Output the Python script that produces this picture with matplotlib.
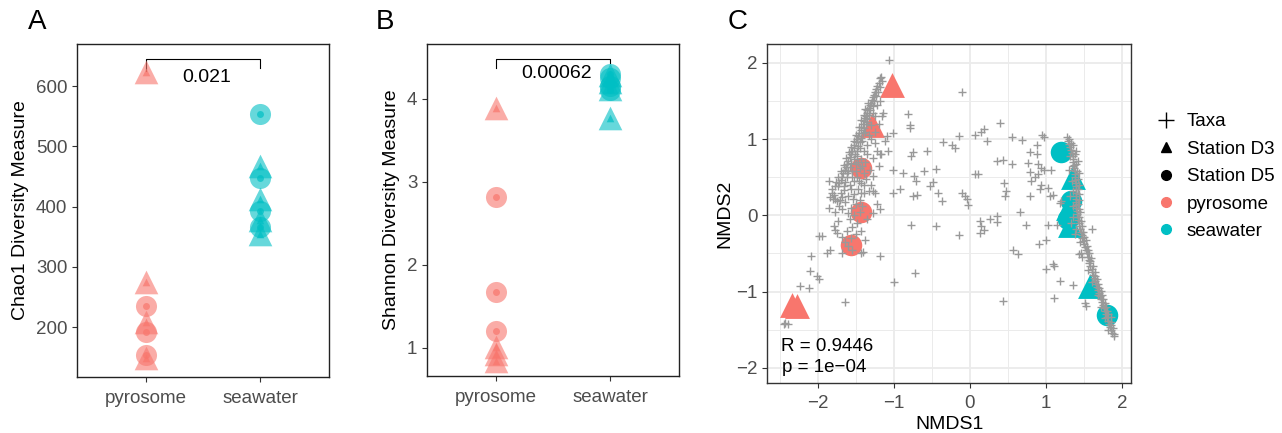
import matplotlib.pyplot as plt
from matplotlib.lines import Line2D
import numpy as np

plt.rcParams['font.family'] = ['Liberation Sans', 'DejaVu Sans']

PYRO = '#F8766D'
SEA = '#00BFC4'
TICKC = '#4D4D4D'

groups = ['pyrosome', 'seawater']

# Chao1 (panel A)
chao_pyro_d3 = [623, 274, 208, 148]
chao_pyro_d5 = [235, 191, 153]
chao_sea_d3 = [468, 412, 377, 355]
chao_sea_d5 = [553, 448, 393, 366]
chao_p = '0.021'

# Shannon (panel B)
shan_pyro_d3 = [3.89, 1.01, 0.92, 0.84]
shan_pyro_d5 = [2.82, 1.67, 1.20]
shan_sea_d3 = [4.28, 4.20, 4.12, 3.77]
shan_sea_d5 = [4.30, 4.25, 4.15, 4.10]
shan_p = '0.00062'

# NMDS samples (panel C)
nmds_pyro_d3 = [(-1.02, 1.71), (-1.29, 1.18), (-2.34, -1.17), (-2.27, -1.19)]
nmds_pyro_d5 = [(-1.43, 0.62), (-1.44, 0.05), (-1.57, -0.39)]
nmds_sea_d3 = [(1.35, 0.51), (1.29, 0.10), (1.31, -0.12), (1.58, -0.93)]
nmds_sea_d5 = [(1.20, 0.83), (1.33, 0.19), (1.29, -0.05), (1.80, -1.31)]
stress_r = 'R = 0.9446'
stress_p = 'p = 1e\u221204'

# taxa scores
taxa_scattered = [
    (-1.07, 2.04), (-1.17, 1.82), (-0.10, 1.62), (-0.81, 1.33), (-0.79, 1.19), (-0.79, 1.15),
    (-1.16, 1.30), (-1.01, 1.08), (-1.09, 1.04), (0.39, 1.21), (0.18, 1.14), (0.15, 1.10),
    (0.07, 1.05), (-0.14, 1.04), (0.22, 0.98), (-0.35, 0.96), (-0.24, 0.92), (-0.20, 0.88),
    (-0.57, 0.85), (-0.75, 0.83), (-0.77, 0.78), (-1.18, 0.80), (0.55, 1.03), (0.68, 0.99),
    (0.95, 1.06), (0.98, 1.03), (0.88, 0.93), (0.79, 0.83), (0.88, 0.81), (0.77, 0.69),
    (0.90, 0.67), (0.94, 0.62), (0.98, 0.60), (1.07, 0.60), (0.79, 0.57), (0.90, 0.54),
    (0.85, 0.51), (0.80, 0.45), (0.94, 0.40), (1.03, 0.36), (0.92, 0.34), (1.09, 0.27),
    (0.79, 0.25), (1.05, 0.25), (1.20, 0.19), (1.18, 0.16), (0.66, 0.05), (0.74, -0.13),
    (1.03, -0.12), (1.14, -0.12), (1.00, -0.32), (0.91, -0.37), (1.09, -0.64), (1.11, -0.66),
    (1.00, -0.71), (1.18, -0.86), (1.36, -0.92), (1.11, -1.08), (1.51, -1.15), (1.53, -1.19),
    (1.60, -0.18), (1.44, -0.51), (1.46, -0.49), (0.57, -0.45), (0.63, -0.51), (0.43, -1.13),
    (0.35, 0.72), (0.44, 0.73), (0.55, 0.67), (0.45, 0.42), (0.48, 0.32), (0.46, 0.25),
    (0.07, 0.54), (0.11, 0.54), (-0.10, 0.30), (-0.07, 0.26), (-0.04, 0.21), (-0.02, 0.14),
    (-0.42, 0.30), (-0.37, 0.19), (-0.53, 0.38), (-0.48, 0.44), (-0.45, 0.61), (-0.60, 0.58),
    (-0.74, 0.52), (-0.71, 0.45), (-0.88, 0.56), (-1.01, 0.59), (-0.92, 0.35), (-1.01, 0.30),
    (-0.75, 0.25), (-0.70, 0.27), (-0.77, -0.12), (-0.45, -0.14), (-0.14, -0.26), (0.13, -0.08),
    (0.15, -0.14), (0.19, -0.19), (0.13, -0.23), (0.26, -0.05), (0.35, -0.01), (0.35, -0.09),
    (-0.72, -0.75), (-1.00, -0.88), (-1.19, -0.53), (-1.19, 0.09), (-1.27, 0.03), (-1.28, 0.32),
    (-1.33, 0.32), (-1.17, 0.81), (-1.41, -0.48), (-1.68, -0.50), (-1.64, -1.14), (-2.09, -0.53),
    (-2.01, -0.80), (-1.99, -0.84), (-2.10, -0.73), (-2.12, -0.95), (-2.23, -0.93), (-1.99, -0.27),
    (-1.95, -0.27), (-1.86, 0.10), (-1.88, -0.49), (-1.84, -0.46), (-1.77, -0.19), (-1.79, -0.14),
    (-1.75, -0.23), (-1.77, 0.21), (-1.79, 0.27), (-1.75, 0.19), (-2.43, -1.41), (-2.39, -1.43),
    (-2.45, -1.43),
]
taxa_left_arm = [
    (-1.18, 1.80), (-1.20, 1.74), (-1.22, 1.70), (-1.23, 1.66), (-1.25, 1.62), (-1.26, 1.58),
    (-1.28, 1.55), (-1.29, 1.52), (-1.30, 1.48), (-1.32, 1.45), (-1.33, 1.41), (-1.35, 1.38),
    (-1.36, 1.35), (-1.37, 1.31), (-1.38, 1.28), (-1.40, 1.24), (-1.41, 1.20), (-1.43, 1.16),
    (-1.44, 1.12), (-1.46, 1.08), (-1.47, 1.04), (-1.48, 1.00), (-1.50, 0.96), (-1.52, 0.92),
    (-1.53, 0.88), (-1.55, 0.84), (-1.57, 0.80), (-1.58, 0.76), (-1.60, 0.72), (-1.62, 0.68),
    (-1.63, 0.64), (-1.65, 0.60), (-1.67, 0.55), (-1.68, 0.50), (-1.70, 0.46), (-1.72, 0.42),
    (-1.74, 0.38), (-1.35, 1.22), (-1.30, 1.18), (-1.38, 1.10), (-1.33, 1.05), (-1.42, 0.98),
    (-1.36, 0.92), (-1.45, 0.88), (-1.40, 0.84), (-1.48, 0.78), (-1.43, 0.74), (-1.38, 0.70),
    (-1.50, 0.68), (-1.45, 0.62), (-1.55, 0.58), (-1.40, 0.55), (-1.48, 0.50), (-1.52, 0.45),
    (-1.43, 0.42), (-1.58, 0.40), (-1.47, 0.35), (-1.40, 0.30), (-1.52, 0.28), (-1.60, 0.25),
    (-1.45, 0.20), (-1.50, 0.15), (-1.56, 0.10), (-1.45, 0.05), (-1.52, 0.00), (-1.58, -0.05),
    (-1.48, -0.10), (-1.55, -0.15), (-1.62, -0.20), (-1.50, -0.25), (-1.57, -0.30), (-1.65, -0.35),
    (-1.62, 0.55), (-1.66, 0.38), (-1.70, 0.30), (-1.64, 0.18), (-1.72, 0.12), (-1.30, 1.00),
    (-1.25, 0.95), (-1.35, 0.80), (-1.28, 0.75), (-1.32, 0.60), (-1.37, 0.48), (-1.30, 0.40),
    (-1.42, 0.12), (-1.35, -0.05), (-1.44, -0.20), (-1.38, -0.32), (-1.43, -0.50), (-1.55, -0.45),
    (-1.60, -0.40), (-1.68, -0.28), (-1.74, -0.08), (-1.78, 0.05), (-1.80, 0.22), (-1.82, 0.35),
    (-1.85, 0.45), (-1.25, 1.30), (-1.22, 1.45), (-1.27, 1.35), (-1.15, 1.35), (-1.18, 1.50),
    (-1.20, 1.20), (-1.25, 1.10), (-1.12, 0.98), (-1.08, 0.85), (-1.22, 0.85), (-1.20, 0.65),
    (-1.28, 0.52), (-1.25, 0.30), (-1.22, 0.15),
    (-1.16, 1.76), (-1.19, 1.68), (-1.21, 1.62), (-1.23, 1.57), (-1.26, 1.50), (-1.28, 1.44),
    (-1.31, 1.38), (-1.33, 1.32), (-1.35, 1.27), (-1.37, 1.20), (-1.39, 1.15), (-1.41, 1.08),
    (-1.43, 1.02), (-1.45, 0.96), (-1.47, 0.91), (-1.49, 0.85), (-1.51, 0.80), (-1.53, 0.74),
    (-1.56, 0.69), (-1.58, 0.63), (-1.60, 0.58), (-1.62, 0.50), (-1.64, 0.44), (-1.66, 0.33),
    (-1.68, 0.24), (-1.71, 0.20), (-1.69, 0.08), (-1.61, 0.03), (-1.54, 0.22), (-1.57, 0.35),
    (-1.34, 1.48), (-1.38, 1.40), (-1.40, 1.32), (-1.43, 1.25), (-1.46, 1.16), (-1.50, 1.05),
    (-1.53, 0.98), (-1.56, 0.90), (-1.59, 0.83), (-1.63, 0.75), (-1.66, 0.66), (-1.70, 0.58),
    (-1.73, 0.50), (-1.76, 0.44), (-1.78, 0.38), (-1.81, 0.30), (-1.84, 0.24), (-1.47, 0.70),
    (-1.42, 0.65), (-1.50, 0.58), (-1.46, 0.45), (-1.39, 0.40), (-1.55, 0.50), (-1.44, 0.30),
]
taxa_right_arm = [
    (1.27, 1.03), (1.29, 0.98), (1.30, 0.94), (1.32, 0.90), (1.33, 0.86), (1.34, 0.82),
    (1.35, 0.78), (1.36, 0.74), (1.36, 0.70), (1.37, 0.66), (1.37, 0.62), (1.38, 0.58),
    (1.38, 0.54), (1.38, 0.50), (1.38, 0.46), (1.39, 0.42), (1.39, 0.38), (1.39, 0.34),
    (1.39, 0.30), (1.39, 0.26), (1.40, 0.22), (1.40, 0.18), (1.40, 0.14), (1.40, 0.10),
    (1.41, 0.06), (1.41, 0.02), (1.42, -0.02), (1.42, -0.06), (1.43, -0.10), (1.44, -0.14),
    (1.45, -0.18), (1.46, -0.22), (1.47, -0.26), (1.48, -0.30), (1.49, -0.34), (1.50, -0.38),
    (1.51, -0.42), (1.52, -0.46), (1.54, -0.50), (1.55, -0.54), (1.56, -0.58), (1.57, -0.62),
    (1.58, -0.66), (1.60, -0.70), (1.61, -0.74), (1.62, -0.78), (1.63, -0.82), (1.65, -0.86),
    (1.66, -0.90), (1.67, -0.94), (1.68, -0.98), (1.70, -1.02), (1.71, -1.06), (1.72, -1.10),
    (1.74, -1.14), (1.75, -1.18), (1.76, -1.22), (1.78, -1.26), (1.79, -1.30), (1.80, -1.34),
    (1.82, -1.38), (1.83, -1.42), (1.84, -1.46), (1.86, -1.50), (1.87, -1.54), (1.89, -1.58),
    (1.33, 0.95), (1.40, 0.85), (1.42, 0.72), (1.35, 0.65), (1.43, 0.55), (1.34, 0.45),
    (1.44, 0.40), (1.35, 0.32), (1.44, 0.20), (1.35, 0.12), (1.45, 0.05), (1.36, -0.02),
    (1.46, -0.08), (1.40, -0.18), (1.50, -0.28), (1.45, -0.35), (1.55, -0.45), (1.48, -0.55),
    (1.58, -0.60), (1.55, -0.72), (1.65, -0.80), (1.60, -0.88), (1.70, -0.95), (1.68, -1.05),
    (1.75, -1.10), (1.72, -1.20), (1.80, -1.25), (1.77, -1.35), (1.85, -1.40), (1.82, -1.50),
    (1.31, 0.78), (1.30, 0.60), (1.32, 0.25), (1.33, -0.10), (1.38, -0.25),
    (1.30, 1.00), (1.36, 0.92), (1.38, 0.80), (1.40, 0.68), (1.41, 0.58), (1.42, 0.48),
    (1.42, 0.35), (1.43, 0.28), (1.42, 0.15), (1.43, 0.08), (1.44, -0.02), (1.47, -0.14),
    (1.49, -0.22), (1.52, -0.32), (1.54, -0.40), (1.57, -0.50), (1.59, -0.56), (1.62, -0.66),
    (1.64, -0.74), (1.67, -0.84), (1.69, -0.90), (1.72, -0.99), (1.74, -1.04), (1.77, -1.15),
    (1.79, -1.20), (1.82, -1.30), (1.85, -1.34), (1.86, -1.44), (1.88, -1.48), (1.90, -1.56),
]

fig = plt.figure(figsize=(12.82, 4.33), dpi=100)
axA = fig.add_axes([0.0601, 0.1293, 0.1966, 0.769])
axB = fig.add_axes([0.3331, 0.1316, 0.1966, 0.767])
axC = fig.add_axes([0.5983, 0.1155, 0.284, 0.783])


def alpha_panel(ax, pd3, pd5, sd3, sd5, ylim, yticks, ylabel, bracket, ptext, ptext_y):
    for xi, d3, d5, col in [(1, pd3, pd5, PYRO), (2, sd3, sd5, SEA)]:
        ax.scatter([xi] * len(d5), d5, marker='o', s=230, color=col, alpha=0.6, linewidths=0, zorder=2)
        ax.scatter([xi] * len(d3), d3, marker='^', s=290, color=col, alpha=0.6, linewidths=0, zorder=2)
        ax.scatter([xi] * len(d5), d5, marker='o', s=25, color=col, alpha=0.7, linewidths=0, zorder=3)
        ax.scatter([xi] * len(d3), d3, marker='^', s=30, color=col, alpha=0.7, linewidths=0, zorder=3)
    top, l_end, r_end = bracket
    ax.plot([1, 1, 2, 2], [l_end, top, top, r_end], color='black', lw=0.8, zorder=1)
    ax.text(1.53, ptext_y, ptext, ha='center', va='center', fontsize=14)
    ax.set_xlim(0.4, 2.6)
    ax.set_ylim(*ylim)
    ax.set_xticks([1, 2])
    ax.set_xticklabels(groups)
    ax.set_yticks(yticks)
    ax.set_ylabel(ylabel, fontsize=14, labelpad=5)
    ax.tick_params(labelsize=13.5, labelcolor=TICKC, color='#333333', length=3.5)
    ax.tick_params(axis='x', pad=6)
    for s in ax.spines.values():
        s.set_linewidth(1.0)
        s.set_color('#222222')


alpha_panel(axA, chao_pyro_d3, chao_pyro_d5, chao_sea_d3, chao_sea_d5,
            (117, 670), [200, 300, 400, 500, 600], 'Chao1 Diversity Measure',
            (645, 625, 630), chao_p, 615)
alpha_panel(axB, shan_pyro_d3, shan_pyro_d5, shan_sea_d3, shan_sea_d5,
            (0.66, 4.66), [1, 2, 3, 4], 'Shannon Diversity Measure',
            (4.48, 4.37, 4.43), shan_p, 4.30)

# panel C
for pts, mk, col, s in [(nmds_pyro_d3, '^', PYRO, 320), (nmds_pyro_d5, 'o', PYRO, 240),
                        (nmds_sea_d3, '^', SEA, 320), (nmds_sea_d5, 'o', SEA, 240)]:
    arr = np.array(pts)
    axC.scatter(arr[:, 0], arr[:, 1], marker=mk, s=s, color=col, linewidths=0, zorder=2)
taxa = np.array(taxa_scattered + taxa_left_arm + taxa_right_arm)
axC.scatter(taxa[:, 0], taxa[:, 1], marker='+', s=28, color='#999999', linewidths=1.0, zorder=3)
axC.text(-2.49, -1.72, stress_r, ha='left', va='center', fontsize=13.5)
axC.text(-2.47, -2.0, stress_p, ha='left', va='center', fontsize=13.5)
axC.set_xlim(-2.67, 2.12)
axC.set_ylim(-2.2, 2.25)
axC.set_xticks([-2, -1, 0, 1, 2])
axC.set_yticks([-2, -1, 0, 1, 2])
axC.set_xticks(np.arange(-2.5, 2.1, 1.0), minor=True)
axC.set_yticks(np.arange(-1.5, 2.1, 1.0), minor=True)
axC.set_xticklabels(['\u22122', '\u22121', '0', '1', '2'])
axC.set_yticklabels(['\u22122', '\u22121', '0', '1', '2'])
axC.grid(which='major', color='#EBEBEB', lw=1.3, zorder=0)
axC.grid(which='minor', color='#EBEBEB', lw=0.7, zorder=0)
axC.set_axisbelow(True)
axC.tick_params(which='major', labelsize=13.5, labelcolor=TICKC, color='#333333', length=3.5)
axC.tick_params(axis='x', which='major', pad=5)
axC.tick_params(which='minor', length=0)
axC.set_xlabel('NMDS1', fontsize=14, labelpad=3)
axC.set_ylabel('NMDS2', fontsize=14, labelpad=2)
for s in axC.spines.values():
    s.set_linewidth(1.0)
    s.set_color('#333333')

handles = [
    Line2D([], [], ls='', marker='+', color='black', markersize=11, markeredgewidth=1.0),
    Line2D([], [], ls='', marker='^', color='black', markersize=7),
    Line2D([], [], ls='', marker='o', color='black', markersize=7),
    Line2D([], [], ls='', marker='o', color=PYRO, markersize=7),
    Line2D([], [], ls='', marker='o', color=SEA, markersize=7),
]
labels = ['Taxa', 'Station D3', 'Station D5', 'pyrosome', 'seawater']
fig.legend(handles, labels, loc='upper left', bbox_to_anchor=(1141 / 1282, 1 - 100 / 433),
           frameon=False, fontsize=13.5, labelspacing=0.55, handletextpad=0.45,
           handlelength=1.3, borderpad=0.2)

for lab, xp in [('A', 37), ('B', 385), ('C', 738)]:
    fig.text(xp / 1282, 1 - 22 / 433, lab, fontsize=20, ha='center', va='center')

fig.savefig('out.png', dpi=100)
